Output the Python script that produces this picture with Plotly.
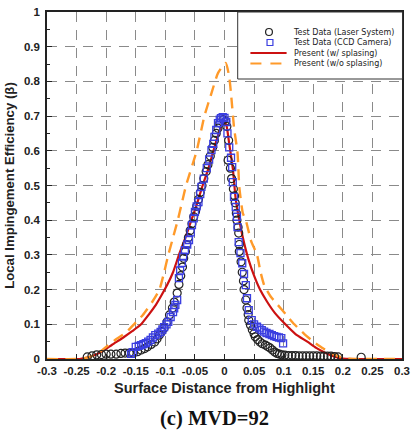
import plotly.graph_objects as go

# ---------------- data ----------------
laser_x = [-0.232, -0.224, -0.216, -0.208, -0.200, -0.192, -0.183, -0.175, -0.168, -0.161,
           -0.154, -0.147, -0.141, -0.135, -0.130, -0.124, -0.118, -0.114, -0.110, -0.106,
           -0.102, -0.097, -0.093, -0.088, -0.085, -0.080, -0.077, -0.074, -0.071, -0.069,
           -0.066, -0.064, -0.061, -0.058, -0.055, -0.052, -0.049, -0.047, -0.044, -0.041,
           -0.038, -0.035, -0.031, -0.028, -0.024, -0.020, -0.017, -0.014, -0.011, -0.008,
           -0.002, 0.002, 0.004, 0.007, 0.006, 0.010, 0.012, 0.015, 0.017, 0.018,
           0.020, 0.021, 0.023, 0.024, 0.025, 0.025, 0.028, 0.030, 0.032, 0.033,
           0.036, 0.038, 0.040, 0.041, 0.044, 0.047, 0.050, 0.052, 0.056, 0.060,
           0.064, 0.069, 0.073, 0.077, 0.081, 0.085, 0.089, 0.093, 0.097, 0.102,
           0.108, 0.114, 0.120, 0.126, 0.132, 0.138, 0.144, 0.150, 0.156, 0.162,
           0.168, 0.174, 0.180, 0.186, 0.192, 0.231]
laser_y = [0.006, 0.009, 0.012, 0.013, 0.014, 0.014, 0.014, 0.016, 0.017, 0.017,
           0.017, 0.021, 0.026, 0.030, 0.035, 0.042, 0.049, 0.058, 0.069, 0.079,
           0.089, 0.107, 0.127, 0.147, 0.164, 0.190, 0.215, 0.240, 0.265, 0.290,
           0.310, 0.330, 0.350, 0.370, 0.390, 0.410, 0.425, 0.440, 0.460, 0.480,
           0.500, 0.520, 0.540, 0.560, 0.585, 0.610, 0.630, 0.650, 0.665, 0.680,
           0.690, 0.685, 0.670, 0.630, 0.573, 0.550, 0.520, 0.490, 0.470, 0.450,
           0.420, 0.400, 0.380, 0.363, 0.330, 0.310, 0.280, 0.250, 0.225, 0.200,
           0.170, 0.147, 0.128, 0.112, 0.097, 0.084, 0.073, 0.064, 0.056, 0.049,
           0.044, 0.040, 0.036, 0.032, 0.026, 0.020, 0.016, 0.014, 0.012, 0.011,
           0.010, 0.010, 0.010, 0.009, 0.009, 0.009, 0.009, 0.009, 0.009, 0.008,
           0.008, 0.008, 0.008, 0.007, 0.006, 0.005]

ccd_x = [-0.158, -0.155, -0.150, -0.145, -0.141, -0.137, -0.133, -0.129, -0.125, -0.121,
         -0.117, -0.112, -0.108, -0.105, -0.102, -0.098, -0.095, -0.091, -0.087, -0.085,
         -0.083, -0.080, -0.077, -0.075, -0.072, -0.070, -0.067, -0.063, -0.060, -0.057,
         -0.055, -0.052, -0.050, -0.047, -0.044, -0.041, -0.039, -0.035, -0.030, -0.026,
         -0.022, -0.019, -0.017, -0.014, -0.011, -0.008, -0.006, -0.003, 0.000, 0.003,
         0.005, 0.008, 0.011, 0.013, 0.014, 0.016, 0.019, 0.021, 0.022, 0.024,
         0.027, 0.030, 0.033, 0.036, 0.038, 0.041, 0.046, 0.050, 0.055, 0.059,
         0.063, 0.067, 0.071, 0.076, 0.080, 0.084, 0.088, 0.092, 0.096, 0.099]
ccd_y = [0.015, 0.020, 0.035, 0.038, 0.040, 0.043, 0.046, 0.050, 0.055, 0.062,
         0.069, 0.073, 0.078, 0.085, 0.092, 0.100, 0.107, 0.121, 0.135, 0.146,
         0.156, 0.170, 0.233, 0.255, 0.277, 0.295, 0.314, 0.330, 0.343, 0.365,
         0.386, 0.405, 0.424, 0.440, 0.452, 0.475, 0.496, 0.520, 0.550, 0.575,
         0.602, 0.620, 0.640, 0.660, 0.680, 0.690, 0.694, 0.697, 0.695, 0.683,
         0.650, 0.610, 0.580, 0.553, 0.510, 0.467, 0.438, 0.410, 0.380, 0.337,
         0.305, 0.276, 0.245, 0.213, 0.175, 0.141, 0.112, 0.100, 0.093, 0.088,
         0.083, 0.079, 0.075, 0.072, 0.069, 0.066, 0.064, 0.062, 0.060, 0.045]

splash_x = [-0.300, -0.245, -0.232, -0.218, -0.204, -0.190, -0.171, -0.156, -0.141, -0.128,
            -0.116, -0.106, -0.097, -0.087, -0.077, -0.066, -0.056, -0.046, -0.037, -0.027,
            -0.017, -0.008, -0.002, 0.003, 0.008, 0.014, 0.019, 0.025, 0.031, 0.040,
            0.050, 0.060, 0.072, 0.085, 0.100, 0.120, 0.140, 0.155, 0.170, 0.185,
            0.200, 0.300]
splash_y = [0.000, 0.000, 0.004, 0.012, 0.025, 0.041, 0.062, 0.080, 0.100, 0.128,
            0.156, 0.185, 0.213, 0.250, 0.300, 0.350, 0.400, 0.450, 0.500, 0.550,
            0.610, 0.660, 0.685, 0.675, 0.620, 0.550, 0.460, 0.400, 0.350, 0.290,
            0.240, 0.200, 0.165, 0.133, 0.105, 0.072, 0.050, 0.032, 0.018, 0.007,
            0.001, 0.000]

nosplash_x = [-0.300, -0.248, -0.234, -0.215, -0.200, -0.185, -0.166, -0.153, -0.138, -0.122,
              -0.110, -0.102, -0.095, -0.087, -0.079, -0.072, -0.065, -0.047, -0.034, -0.022,
              -0.011, 0.002, 0.008, 0.012, 0.016, 0.022, 0.025, 0.031, 0.036, 0.045,
              0.055, 0.061, 0.067, 0.078, 0.090, 0.104, 0.118, 0.135, 0.151, 0.167,
              0.180, 0.196, 0.210, 0.300]
nosplash_y = [0.000, 0.000, 0.003, 0.015, 0.035, 0.055, 0.077, 0.100, 0.127, 0.165,
              0.200, 0.250, 0.300, 0.350, 0.400, 0.450, 0.500, 0.600, 0.700, 0.766,
              0.824, 0.853, 0.813, 0.746, 0.668, 0.594, 0.496, 0.420, 0.400, 0.340,
              0.300, 0.250, 0.213, 0.180, 0.156, 0.128, 0.100, 0.072, 0.049, 0.030,
              0.017, 0.006, 0.001, 0.000]

x_ticks = [-0.3, -0.25, -0.2, -0.15, -0.1, -0.05, 0, 0.05, 0.1, 0.15, 0.2, 0.25, 0.3]
x_tick_text = ["-0.3", "-0.25", "-0.2", "-0.15", "-0.1", "-0.05", "0", "0.05", "0.1",
               "0.15", "0.2", "0.25", "0.3"]
y_ticks = [0, 0.1, 0.2, 0.3, 0.4, 0.5, 0.6, 0.7, 0.8, 0.9, 1]
y_tick_text = ["0", "0.1", "0.2", "0.3", "0.4", "0.5", "0.6", "0.7", "0.8", "0.9", "1"]

legend_names = ["Test Data (Laser System)", "Test Data (CCD Camera)",
                "Present (w/ splasing)", "Present (w/o splasing)"]

# ---------------- figure ----------------
W, H = 416, 434
L, R, T, B = 47, 6, 12, 75
PW, PH = W - L - R, H - T - B

BLACK_M = "#222222"
BLUE_M = "#3a3ee0"
RED = "#cc1111"
ORANGE = "#ff9a2a"
FONT = "Liberation Sans"

fig = go.Figure()
fig.add_trace(go.Scatter(x=splash_x, y=splash_y, mode="lines", name=legend_names[2],
                         line=dict(color=RED, width=2.2, shape="spline", smoothing=0.5),
                         showlegend=False))
fig.add_trace(go.Scatter(x=nosplash_x, y=nosplash_y, mode="lines", name=legend_names[3],
                         line=dict(color=ORANGE, width=2.4, dash="11px,7px",
                                   shape="spline", smoothing=0.5),
                         showlegend=False))
fig.add_trace(go.Scatter(x=laser_x, y=laser_y, mode="markers", name=legend_names[0],
                         marker=dict(symbol="circle-open", size=8, color=BLACK_M,
                                     line=dict(width=1.2, color=BLACK_M)),
                         showlegend=False))
fig.add_trace(go.Scatter(x=ccd_x, y=ccd_y, mode="markers", name=legend_names[1],
                         marker=dict(symbol="square-open", size=7, color=BLUE_M,
                                     line=dict(width=1.3, color=BLUE_M)),
                         showlegend=False))


def px(xp):
    return (xp - L) / PW


def py(yp):
    return (H - B - yp) / PH


shapes = []
annotations = []
# legend box
shapes.append(dict(type="rect", xref="paper", yref="paper",
                   x0=px(242), x1=px(410.5), y0=py(79), y1=py(12),
                   fillcolor="white", line=dict(color="#333333", width=1), layer="above"))
# legend symbols
shapes.append(dict(type="circle", xref="paper", yref="paper",
                   x0=px(270.5), x1=px(277.5), y0=py(35.5), y1=py(28.5),
                   line=dict(color=BLACK_M, width=1.2), layer="above"))
shapes.append(dict(type="rect", xref="paper", yref="paper",
                   x0=px(272), x1=px(278), y0=py(45.5), y1=py(39.5),
                   line=dict(color=BLUE_M, width=1.2), layer="above"))
shapes.append(dict(type="line", xref="paper", yref="paper",
                   x0=px(255), x1=px(292), y0=py(53), y1=py(53),
                   line=dict(color=RED, width=2), layer="above"))
shapes.append(dict(type="line", xref="paper", yref="paper",
                   x0=px(255), x1=px(292), y0=py(63.5), y1=py(63.5),
                   line=dict(color=ORANGE, width=2.2, dash="11px,9px"), layer="above"))
# legend labels as one multi-line text block
annotations.append(dict(text="<br>".join(legend_names), xref="paper", yref="paper",
                        x=px(296), y=py(26.5), xanchor="left", yanchor="top", align="left",
                        showarrow=False, font=dict(family="DejaVu Sans", size=8, color="#222")))

# axis titles and caption
annotations.append(dict(text="<b>Local Impingement Efficiency (β)</b>", xref="paper", yref="paper",
                        x=px(8), y=py(185), textangle=-90, showarrow=False,
                        xanchor="center", yanchor="middle",
                        font=dict(family=FONT, size=13.2, color="#222")))
annotations.append(dict(text="<b>Surface Distance from Highlight</b>", xref="paper", yref="paper",
                        x=px(228.5), y=py(388), showarrow=False,
                        xanchor="center", yanchor="middle",
                        font=dict(family=FONT, size=14.5, color="#222")))
annotations.append(dict(text="<b>(c) MVD=92</b>", xref="paper", yref="paper",
                        x=px(218), y=py(418), showarrow=False,
                        xanchor="center", yanchor="middle",
                        font=dict(family="Liberation Serif", size=20.5, color="#111")))

fig.update_layout(
    width=W, height=H,
    margin=dict(l=L, r=R, t=T, b=B, pad=0),
    paper_bgcolor="white", plot_bgcolor="white",
    shapes=shapes, annotations=annotations,
    showlegend=False,
    font=dict(family=FONT, color="#222"),
)
fig.update_xaxes(range=[-0.3, 0.3], tickvals=x_ticks, ticktext=x_tick_text,
                 ticks="inside", ticklen=5, tickcolor="#222", tickwidth=1,
                 showline=True, linecolor="#222", linewidth=1.5, mirror=True,
                 showgrid=True, gridcolor="#8a8a8a", gridwidth=1, griddash="10px,8px",
                 zeroline=False, tickfont=dict(family=FONT, size=11.5, color="#222", weight="bold"),
                 ticklabelstandoff=0)
fig.update_yaxes(range=[0, 1], tickvals=y_ticks, ticktext=y_tick_text,
                 ticks="inside", ticklen=5, tickcolor="#222", tickwidth=1,
                 minor=dict(dtick=0.05, ticks="inside", ticklen=3, tickcolor="#222", showgrid=False),
                 showline=True, linecolor="#222", linewidth=1.5, mirror=True,
                 showgrid=True, gridcolor="#8a8a8a", gridwidth=1, griddash="10px,8px",
                 zeroline=False, tickfont=dict(family=FONT, size=11.5, color="#222", weight="bold"),
                 ticklabelstandoff=3)

fig.write_html("out.html")
